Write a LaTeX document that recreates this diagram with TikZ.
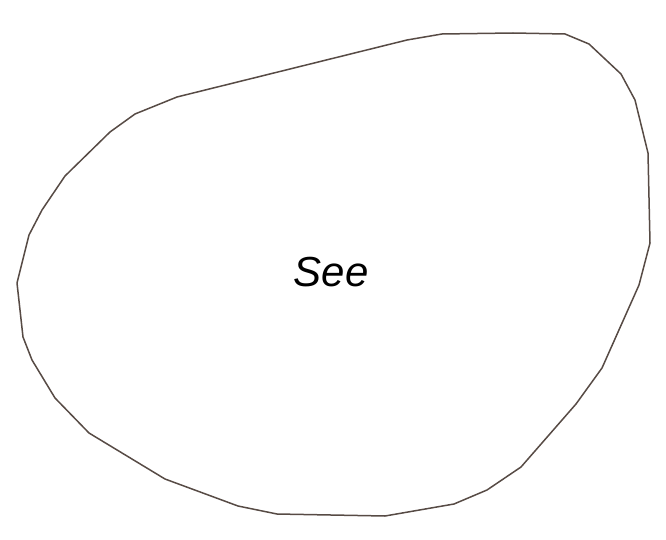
\documentclass[tikz,border=0pt]{standalone}
\usepackage{fontspec}
\setmainfont{Liberation Sans}
\definecolor{edge}{HTML}{574B45}
\begin{document}
\begin{tikzpicture}[x=1pt,y=-1pt,
  blob/.style={draw=edge,line width=1.5pt,line join=round},
  lbl/.style={font=\fontsize{42}{44}\selectfont\itshape,inner sep=0pt}]
\useasboundingbox (0,0) rectangle (666,540);
\draw[blob] (407,40) -- (442,34) -- (513,33) -- (565,34) -- (589,44) -- (621,74) -- (635,100) -- (648,153) -- (650,243) -- (639,285) -- (602,368) -- (576,404) -- (521,467) -- (487,490) -- (454,504) -- (385,516) -- (277,514) -- (238,506) -- (165,479) -- (89,433) -- (55,398) -- (32,360) -- (23,337) -- (17,283) -- (29,235) -- (42,210) -- (65,176) -- (110,132) -- (135,114) -- (177,97) -- cycle;
\node[lbl] (see) at (331,272) {See};
\end{tikzpicture}
\end{document}
